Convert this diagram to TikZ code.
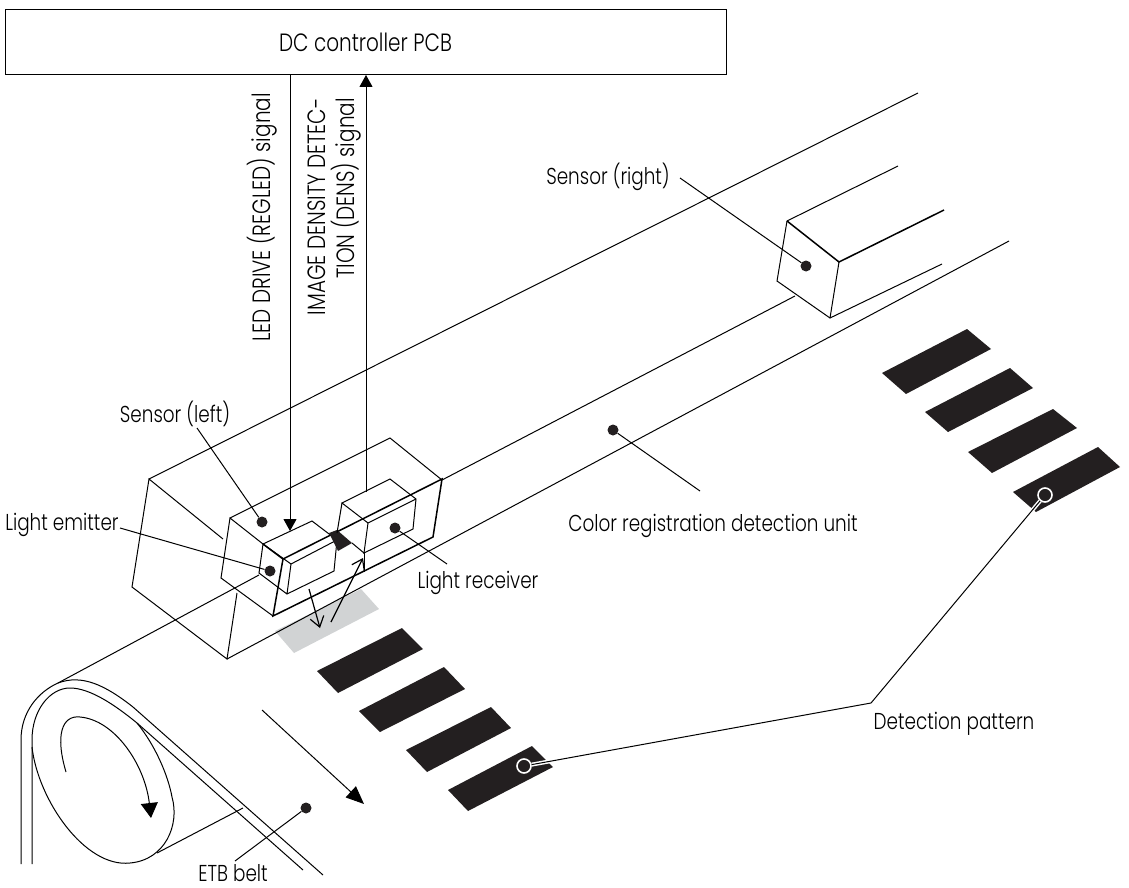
\documentclass[tikz,border=0pt]{standalone}
\usepackage{fontspec}
\setmainfont{Poppins}[UprightFont=* Light,FakeStretch=0.8]
\usepackage{tikz}
\usetikzlibrary{arrows.meta}
\tikzset{
  pcbbox/.style={
    rectangle,
    draw,
    line width=1pt,
    minimum width=721pt,
    minimum height=65pt,
    font=\fontsize{25}{29}\selectfont,
    inner sep=0pt
  },
  partlabel/.style={
    font=\fontsize{23}{27}\selectfont,
    inner sep=0pt,
    outer sep=0pt
  },
  signallabel/.style={
    font=\fontsize{25}{29}\selectfont,
    rotate=90,
    anchor=east,
    align=right,
    inner sep=0pt
  },
  thinline/.style={line width=1pt},
  boxline/.style={line width=1.5pt},
  stripe/.style={fill=stripeblack, draw=none},
  leaderline/.style={line width=1pt},
  leaderhalo/.style={line width=4pt, white},
  leaderdot/.style={circle, fill=stripeblack, minimum size=11pt, inner sep=0pt},
  ringdot/.style={circle, draw=white, fill=stripeblack, line width=1.6pt, minimum size=14pt, inner sep=0pt},
  signalarrow/.style={-{Triangle[length=12pt,width=13pt]}, line width=1pt},
  beamarrow/.style={-{Straight Barb[length=10pt,width=14pt]}, line width=1.2pt},
  feedarrow/.style={-{Triangle[length=18pt,width=15pt]}, line width=1pt}
}
\definecolor{stripeblack}{HTML}{231F20}
\definecolor{spotgray}{HTML}{D1D3D4}
\begin{document}
\begin{tikzpicture}[x=1pt,y=-1pt]
  \useasboundingbox (0,0) rectangle (1129,888);
  \node[pcbbox] (dc) at (365.5,42) {DC controller PCB};

  % spot and long edges
  \fill[spotgray] (275,631) -- (294,653) -- (379,609) -- (361,589) -- cycle;
  \draw[thinline] (149,479) -- (918,93);
  \draw[thinline] (227,659) -- (1009,241);
  \draw[thinline] (442,480) -- (795,296);
  \draw[thinline] (58,683) -- (259,575);

  % sensor housing
  \draw[thinline] (237,593) -- (227,659) -- (132,587) -- (149,479) -- (223,539);
  \draw[thinline] (263,544) -- (230,518) -- (221,578) -- (273,616) (230,518) -- (390,438) -- (442,480);
  \draw[boxline] (263,544) -- (283,559) -- (273,616) -- (433,537) -- (442,479) -- (283,559);
  \draw[thinline] (364,553) -- (364,572);

  % light emitter
  \draw[thinline] (263,544) -- (312,521) -- (337,540) -- (334,571) -- (287,594) -- (259,573) -- (263,544) -- (291,564) -- (287,594);
  \draw[thinline] (291,564) -- (337,540);
  \fill[stripeblack] (329,533) -- (337,530) -- (352,543) -- (338,551) -- cycle;

  % light receiver
  \draw[thinline] (368,523) -- (342,503) -- (390,479) -- (416,499) -- (413,529) -- (364,553) -- (368,523) -- (416,499);
  \draw[thinline] (342,503) -- (337,533) (364,553) -- (352,543);

  % right sensor
  \draw[thinline] (898,166) -- (787,221) -- (777,281) -- (830,318) -- (942,264);
  \draw[boxline] (787,221) -- (839,262) -- (944,210);
  \draw[thinline] (839,262) -- (830,318);

  % belt and roller
  \draw[thinline] (21,864) -- (21,740) .. controls (21,712) and (38,692) .. (58,683) .. controls (82,674) and (105,685) .. (133,707) -- (323,875);
  \draw[thinline] (32,864) -- (32,740) .. controls (32,710) and (50,688) .. (70,688) .. controls (90,688) and (115,705) .. (137,723) -- (303,870);
  \draw[thinline] (32,747) .. controls (38,800) and (85,868) .. (130,863) .. controls (165,860) and (180,825) .. (172,797) .. controls (168,775) and (155,745) .. (137,723);
  \draw[thinline] (157,853) -- (243,808);
  \draw[thinline, -{Triangle[length=15pt,width=17pt]}] (66,772) .. controls (55,735) and (62,715) .. (80,717) .. controls (115,720) and (145,765) .. (151,818);

  % patterns on the belt
  \fill[stripe] (317,671) -- (402,628) -- (423,649) -- (338,693) -- cycle;
  \fill[stripe] (359,711) -- (444,667) -- (465,689) -- (380,732) -- cycle;
  \fill[stripe] (406,750) -- (491,707) -- (511,728) -- (427,772) -- cycle;
  \fill[stripe] (448,790) -- (532,746) -- (553,767) -- (468,811) -- cycle;
  \fill[stripe] (882,373) -- (967,329) -- (991,349) -- (906,394) -- cycle;
  \fill[stripe] (925,412) -- (1010,368) -- (1033,388) -- (948,432) -- cycle;
  \fill[stripe] (968,452) -- (1053,409) -- (1077,428) -- (992,473) -- cycle;
  \fill[stripe] (1013,492) -- (1098,447) -- (1120,467) -- (1036,512) -- cycle;

  % labels
  \node[partlabel] (sensorleft) at (175,414) {Sensor (left)};
  \node[partlabel] (emitter) at (62,525) {Light emitter};
  \node[partlabel] (receiver) at (478,583) {Light receiver};
  \node[partlabel] (sensorright) at (608,177) {Sensor (right)};
  \node[partlabel] (regunit) at (713,526) {Color registration detection unit};
  \node[partlabel] (pattern) at (954,724) {Detection pattern};
  \node[partlabel] (etb) at (233,873) {ETB belt};
  \node[signallabel] (ledsig) at (262,93) {LED DRIVE (REGLED) signal};
  \node[signallabel] (denssig) at (335,98) {IMAGE DENSITY DETEC-\\TION (DENS) signal};

  % leader ends
  \node[leaderdot] (dotleft) at (262,522) {};
  \node[leaderdot] (dotemitter) at (270,571) {};
  \node[leaderdot] (dotreceiver) at (395,528) {};
  \node[leaderdot] (dotright) at (806,266) {};
  \node[leaderdot] (dotunit) at (613,430) {};
  \node[leaderdot] (dotetb) at (306,808) {};
  \node[ringdot] (ringa) at (524,766) {};
  \node[ringdot] (ringb) at (1045,495) {};
  \coordinate (endleft) at (197,428);
  \coordinate (endemitter) at (120,528);
  \coordinate (endreceiver) at (447,564);
  \coordinate (endright) at (680,178);
  \coordinate (endunit) at (700,491);
  \coordinate (endetb) at (235,861);
  \coordinate (patternjoin) at (871,703);
  \coordinate (ledin) at (290,531);
  \coordinate (densout) at (366,492);

  \draw[leaderline] (endleft) -- (dotleft);
  \draw[leaderline] (endemitter) -- (dotemitter);
  \draw[leaderline] (endreceiver) -- (dotreceiver);
  \draw[leaderline] (endright) -- (dotright);
  \draw[leaderline] (endunit) -- (dotunit);
  \draw[leaderline] (endetb) -- (dotetb);
  \draw[leaderhalo] (ringa) -- (patternjoin) -- (ringb);
  \draw[leaderline] (ringa) -- (patternjoin) -- (ringb);

  % signals and arrows
  \draw[signalarrow] (dc.south -| ledin) -- (ledin);
  \draw[signalarrow] (densout) -- (dc.south -| densout);
  \coordinate (beamoutstart) at (309,589);
  \coordinate (beamoutend) at (320,628);
  \coordinate (beaminstart) at (331,622);
  \coordinate (beaminend) at (363,558);
  \draw[beamarrow] (beamoutstart) -- (beamoutend);
  \draw[beamarrow] (beaminstart) -- (beaminend);
  \coordinate (feedstart) at (262,710);
  \coordinate (feedend) at (364,804);
  \draw[feedarrow] (feedstart) -- (feedend);
\end{tikzpicture}
\end{document}
